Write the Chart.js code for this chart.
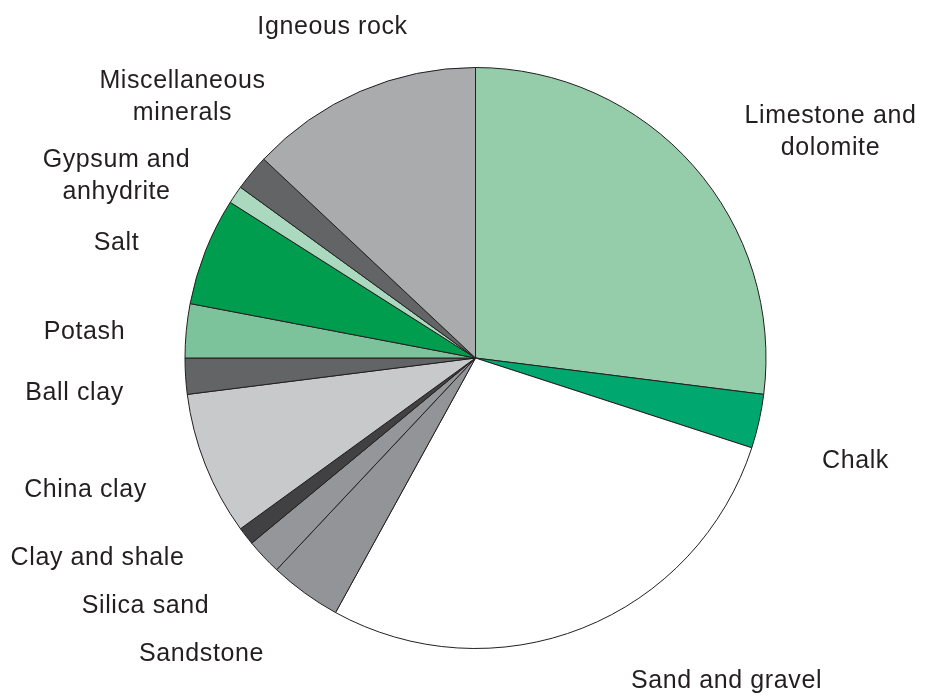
<!DOCTYPE html>
<html>
<head>
<meta charset="utf-8">
<script src="https://cdn.jsdelivr.net/npm/chart.js@4.4.1/dist/chart.umd.min.js"></script>
<style>
    html, body { margin: 0; padding: 0; background: #fff; }
    #wrap { width: 925px; height: 698px; }
</style>
</head>
<body>
<div id="wrap"><canvas id="minerals"></canvas></div>
<script>
// share of output by mineral, clockwise from 12 o'clock (%)
const categories = [
    ['Limestone and', 'dolomite'],
    ['Chalk'],
    ['Sand and gravel'],
    ['Sandstone'],
    ['Silica sand'],
    ['Clay and shale'],
    ['China clay'],
    ['Ball clay'],
    ['Potash'],
    ['Salt'],
    ['Gypsum and', 'anhydrite'],
    ['Miscellaneous', 'minerals'],
    ['Igneous rock']
];
const shares = [27, 3, 28, 4, 2, 1, 8, 2, 3, 6, 1, 2, 13];

const sliceColours = [
    '#95cdab', '#00a870', '#ffffff', '#929497', '#95969a', '#414042',
    '#c8c9cb', '#636466', '#7cc39c', '#009d4f', '#abd9bf', '#636466', '#aaabad'
];

// where each label sits, relative to the pie centre: [x centre, first baseline]
const labelSpots = [
    [355, -235], [380, 110], [251, 330], [-274, 303], [-330, 255], [-378, 207],
    [-390, 139], [-401, 42], [-391, -19], [-359, -108], [-359, -191], [-293, -270], [-143, -324]
];
const lineGap = 32;

const outsideLabels = {
    id: 'outsideLabels',
    afterDraw: function (chart) {
        const ctx = chart.ctx;
        const arc = chart.getDatasetMeta(0).data[0];
        ctx.save();
        ctx.font = '25px "Liberation Sans", Arial, sans-serif';
        ctx.letterSpacing = '0.6px';
        ctx.fillStyle = '#231f20';
        ctx.textAlign = 'center';
        ctx.textBaseline = 'alphabetic';
        categories.forEach(function (lines, i) {
            const spot = labelSpots[i];
            lines.forEach(function (line, j) {
                ctx.fillText(line, arc.x + spot[0], arc.y + spot[1] + j * lineGap);
            });
        });
        ctx.restore();
    }
};

const ctx = document.getElementById('minerals').getContext('2d');

const pie = new Chart(ctx, {
    type: 'pie',
    data: {
        labels: categories.map(function (l) { return l.join(' '); }),
        datasets: [{
            data: shares,
            backgroundColor: sliceColours,
            borderColor: '#231f20',
            borderWidth: 1
        }]
    },
    options: {
        responsive: true,
        maintainAspectRatio: false,
        animation: false,
        layout: {
            padding: { top: 67, bottom: 49, left: 26, right: 0 }
        },
        plugins: {
            legend: { display: false },
            tooltip: { enabled: false }
        }
    },
    plugins: [outsideLabels]
});
</script>
</body>
</html>
